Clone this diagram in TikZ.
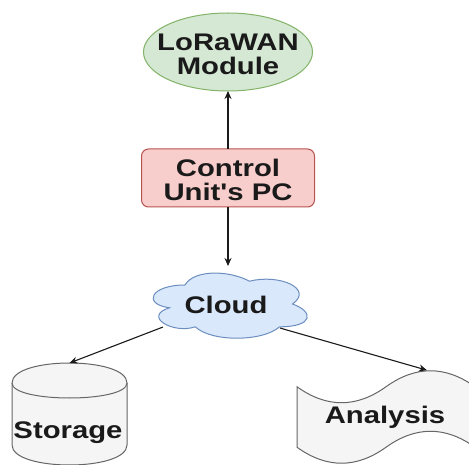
\documentclass[tikz,border=0pt]{standalone}
\usepackage{fontspec}
\setmainfont{Liberation Sans}[FakeStretch=1.22,Ligatures=TeXOff]
\usetikzlibrary{shapes.geometric,arrows.meta}
\definecolor{gfill}{HTML}{D5E8D4}
\definecolor{gline}{HTML}{82B366}
\definecolor{pfill}{HTML}{F8CECC}
\definecolor{pline}{HTML}{B85450}
\definecolor{bfill}{HTML}{DAE8FC}
\definecolor{bline}{HTML}{6C8EBF}
\definecolor{sfill}{HTML}{F5F5F5}
\definecolor{sline}{HTML}{666666}
\definecolor{ink}{HTML}{1A1A1A}
\tikzset{
  lab/.style={font=\fontsize{24pt}{24pt}\selectfont\bfseries, text=ink, align=center, inner sep=0pt},
  arr/.style={draw=ink, line width=1.1pt, -{Stealth[length=8pt,width=7pt]}},
  box/.style={inner sep=0pt, outer sep=0pt},
}
\begin{document}
\begin{tikzpicture}[x=1pt,y=-1pt]
\useasboundingbox (0,0) rectangle (469,465);
\fill[white] (0,0) rectangle (469,465);

% LoRaWAN module
\node[ellipse, draw=gline, fill=gfill, line width=1pt, minimum width=169pt, minimum height=78pt, box] (lora) at (228,52) {};
\node[lab] (lorat) at (228,54) {LoRaWAN\\Module};

% Control unit
\node[rectangle, rounded corners=7pt, draw=pline, fill=pfill, line width=1pt, minimum width=173pt, minimum height=58pt, box] (pc) at (228,178) {};
\node[lab] (pct) at (228,180) {Control\\Unit's PC};

% Cloud
\node[box, minimum width=172pt, minimum height=76pt] (cloud) at (228,304) {};
\begin{scope}[shift={(cloud.north west)}, x=172pt, y=-76pt]
\draw[draw=bline, fill=bfill, line width=1pt]
  (0.25,0.25) .. controls (0.05,0.25) and (0,0.5) .. (0.16,0.55)
  .. controls (0,0.66) and (0.18,0.9) .. (0.31,0.8)
  .. controls (0.4,1) and (0.7,1) .. (0.8,0.8)
  .. controls (1,0.8) and (1,0.6) .. (0.875,0.5)
  .. controls (1,0.3) and (0.8,0.1) .. (0.625,0.2)
  .. controls (0.5,0.05) and (0.3,0.05) .. (0.25,0.25) -- cycle;
\coordinate (cll) at (0.122,0.803);
\coordinate (clr) at (0.802,0.816);
\end{scope}
\node[lab] (cloudt) at (226,305) {Cloud};

% Storage
\node[box, minimum width=115pt, minimum height=102pt] (storage) at (69.5,414) {};
\begin{scope}[shift={(storage.north west)}, x=115pt]
\draw[draw=sline, fill=sfill, line width=1pt]
  (0,20) .. controls (0,-6.67) and (1,-6.67) .. (1,20) -- (1,82)
  .. controls (1,108.67) and (0,108.67) .. (0,82) -- cycle;
\draw[draw=sline, line width=1pt] (0,20) .. controls (0,40) and (1,40) .. (1,20);
\end{scope}
\node[lab] (storaget) at (68,433) {Storage};

% Analysis
\node[box, minimum width=178pt, minimum height=96pt] (analysis) at (386,417) {};
\begin{scope}[shift={(analysis.north west)}, x=178pt]
\draw[draw=sline, fill=sfill, line width=1pt]
  (0,17.75) .. controls (0.1667,39.05) and (0.3333,39.05) .. (0.5,17.75)
  .. controls (0.6667,-3.55) and (0.8333,-3.55) .. (1,17.75)
  -- (1,78.25)
  .. controls (0.8333,56.95) and (0.6667,56.95) .. (0.5,78.25)
  .. controls (0.3333,99.55) and (0.1667,99.55) .. (0,78.25) -- cycle;
\coordinate (antop) at (0.73,1.2);
\end{scope}
\node[lab] (analysist) at (385,417) {Analysis};

% Connectors
\draw[arr] (pc.north) -- (lora.south);
\draw[arr] (pc.south) -- (cloud.north);
\draw[arr] (cll) -- (storage.north);
\draw[arr] (clr) -- (antop);
\end{tikzpicture}
\end{document}
